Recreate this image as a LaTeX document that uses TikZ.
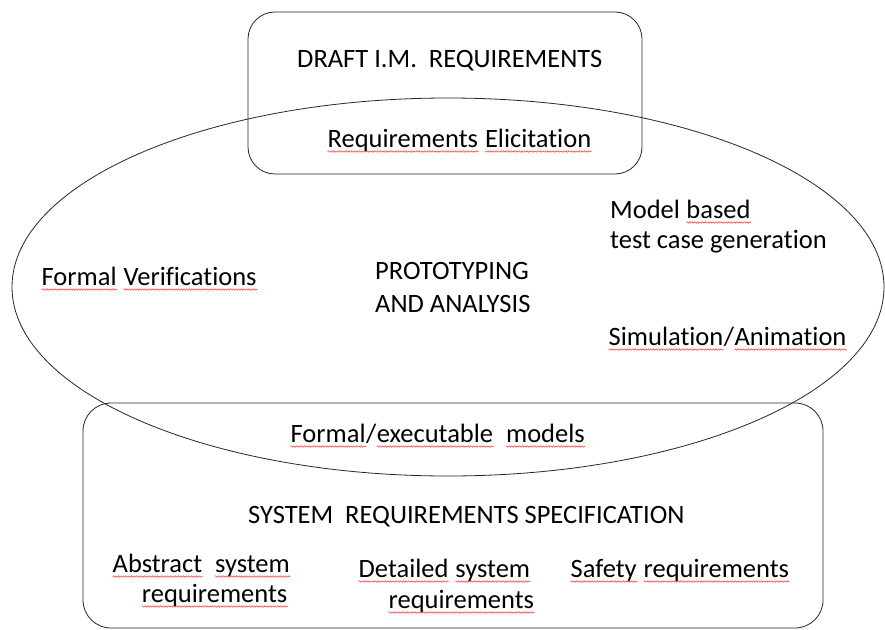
\documentclass[tikz,border=0pt]{standalone}
\usepackage{fontspec}
\setmainfont{Carlito}[Ligatures=NoCommon]
\usetikzlibrary{decorations.pathmorphing}
\newcommand\spellchk[1]{\tikz[baseline=(w.base)]{\node[inner sep=0pt, anchor=base west] (w) {#1};
	\draw[squiggle] ([yshift=-4.5pt]w.base west) -- ([yshift=-4.5pt]w.base east);}}
\tikzset{
	lbl/.style={anchor=base west, inner sep=0pt, font=\fontsize{26.5}{31}\selectfont},
	outline/.style={line width=0.8pt, color=black!85},
	squiggle/.style={red!75, line width=0.55pt, decorate, decoration={snake, amplitude=0.7pt, segment length=2.6pt}}
}

\begin{document}
\begin{tikzpicture}[x=1pt, y=-1pt]
		%%%%% START %%%%%
		\useasboundingbox (0, 0) rectangle (885, 629);
		
		\draw[outline, rounded corners=27pt] (248, 12) rectangle (642, 174);
		\draw[outline] (448, 287) ellipse (436pt and 189pt);
		\draw[outline, rounded corners=28pt] (83, 403) rectangle (823, 628);
		
		\node[lbl] (draft) at (297, 67) {DRAFT I.M.\ \ REQUIREMENTS};
		\node[lbl] (elicit) at (327, 147) {\spellchk{Requirements} \spellchk{Elicitation}};
		
		\node[lbl] (model) at (610, 218) {Model \spellchk{based}};
		\node[lbl] (testcase) at (610, 248) {test case generation};
		\node[lbl] (formver) at (41, 285) {\spellchk{Formal} \spellchk{Verifications}};
		\node[lbl] (proto) at (375, 279) {PROTOTYPING};
		\node[lbl] (analysis) at (375, 312) {AND ANALYSIS};
		\node[lbl] (simul) at (608, 345) {\spellchk{Simulation}/\spellchk{Animation}};
		
		\node[lbl] (execmod) at (290, 442) {\spellchk{Formal}/\spellchk{executable}\ \ \spellchk{models}};
		\node[lbl] (sysreq) at (248, 523) {SYSTEM\ \ REQUIREMENTS SPECIFICATION};
		\node[lbl] (abstract) at (112, 572) {\spellchk{Abstract}\ \ \spellchk{system}};
		\node[lbl, anchor=base east] (abstractreq) at (288, 602) {\spellchk{requirements}};
		\node[lbl] (detailed) at (358, 577) {\spellchk{Detailed} \spellchk{system}};
		\node[lbl] (detailedreq) at (388, 608) {\spellchk{requirements}};
		\node[lbl] (safety) at (570, 577) {\spellchk{Safety} \spellchk{requirements}};
		
		%%%%% END %%%%%
\end{tikzpicture}
\end{document}
